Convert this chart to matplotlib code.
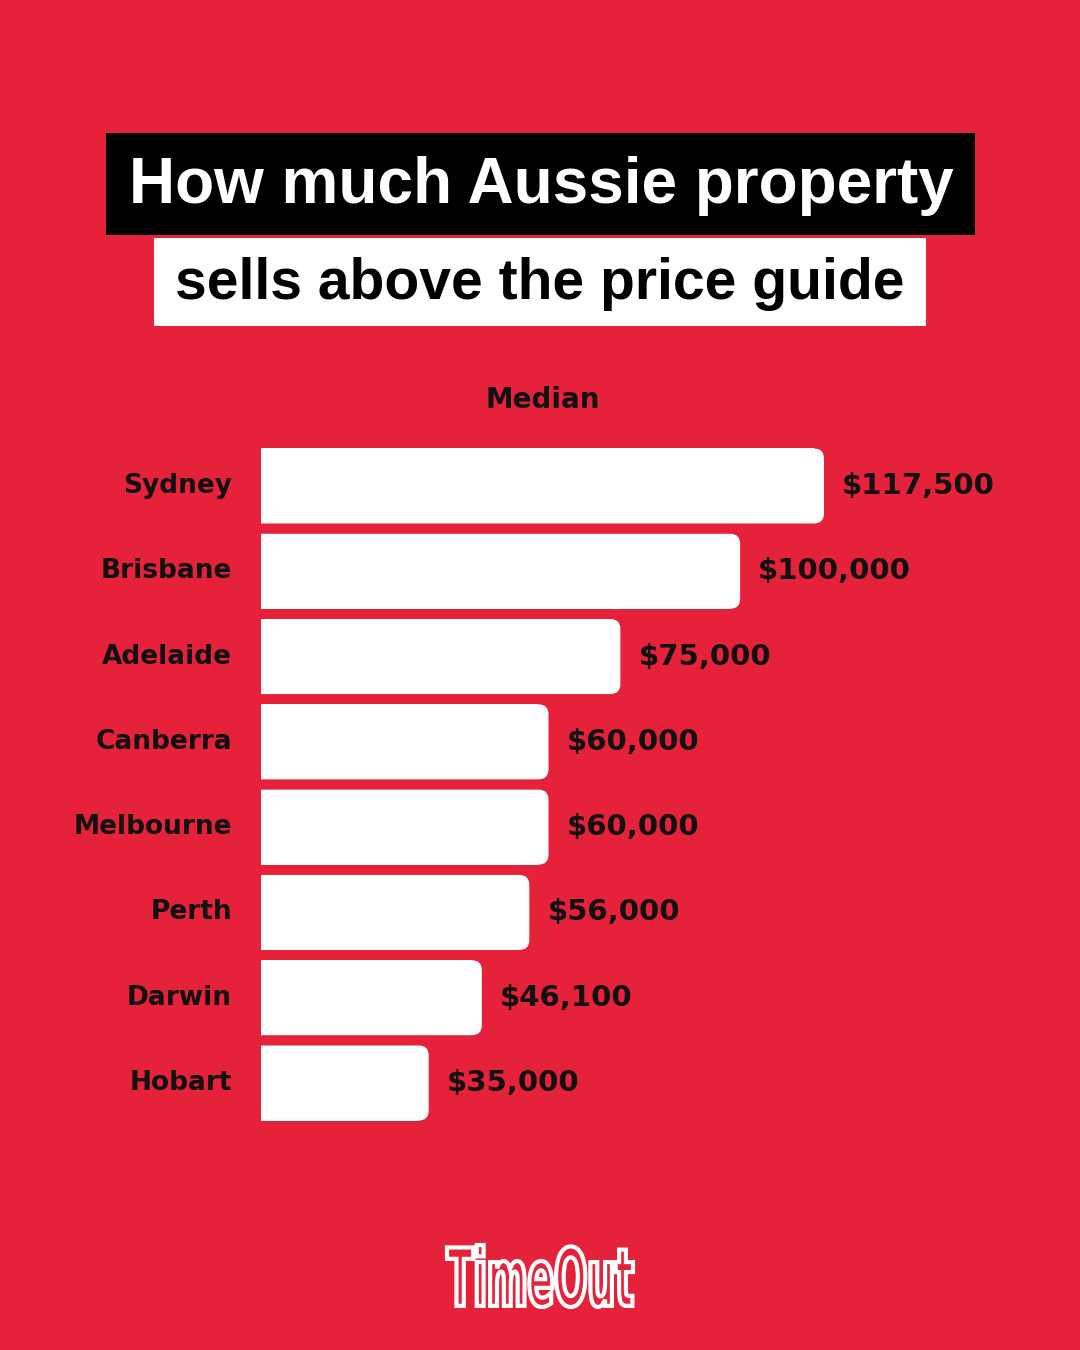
import numpy as np
import matplotlib
matplotlib.use("Agg")
import matplotlib.pyplot as plt
from matplotlib.patches import FancyBboxPatch, Rectangle, PathPatch
from matplotlib.textpath import TextPath
from matplotlib.font_manager import FontProperties
from matplotlib.transforms import Affine2D

# ── Data ──────────────────────────────────────────────────────────────────────
cities = ["Sydney", "Brisbane", "Adelaide", "Canberra",
          "Melbourne", "Perth", "Darwin", "Hobart"]
median_above = [117500, 100000, 75000, 60000, 60000, 56000, 46100, 35000]
value_labels = ["$117,500", "$100,000", "$75,000", "$60,000",
                "$60,000", "$56,000", "$46,100", "$35,000"]

# ── Style ─────────────────────────────────────────────────────────────────────
RED    = "#E6223A"
TITLE  = ["Liberation Sans", "DejaVu Sans"]
LABEL  = ["DejaVu Sans"]
W, H   = 1080, 1350

fig = plt.figure(figsize=(W / 100, H / 100), dpi=100)
fig.patch.set_facecolor(RED)

# overlay axes in pixel coords (y down)
bg = fig.add_axes([0, 0, 1, 1])
bg.set_xlim(0, W)
bg.set_ylim(H, 0)
bg.axis("off")

# title boxes
bg.add_patch(Rectangle((106, 133), 869, 102, facecolor="black", edgecolor="none"))
bg.text(541, 186, "How much Aussie property", color="white", fontsize=46,
        fontweight="bold", family=TITLE, ha="center", va="center")
bg.add_patch(Rectangle((154, 238), 772, 88, facecolor="white", edgecolor="none"))
bg.text(540, 284, "sells above the price guide", color="black", fontsize=41,
        fontweight="bold", family=TITLE, ha="center", va="center")

bg.text(543, 400, "Median", color="#111", fontsize=20, fontweight="bold",
        family=LABEL, ha="center", va="center")

# logo: outlined, stretched tall
tp = TextPath((0, 0), "TimeOut", size=1,
              prop=FontProperties(family="DejaVu Sans", weight="bold"))
ext = tp.get_extents()
lw, lh = 186, 62
tr = (Affine2D().translate(-ext.x0, -ext.y0)
      .scale(lw / ext.width, -lh / ext.height)
      .translate(447, 1307))
bg.add_patch(PathPatch(tr.transform_path(tp), facecolor=RED,
                       edgecolor="white", linewidth=3))

# ── Bars ──────────────────────────────────────────────────────────────────────
x0_px, px_per_dollar = 261, 563 / 117500
ax_right_px = 1040
row_px = 85.3
top_px = 486 - row_px / 2
bot_px = 1083 + row_px / 2
ax = fig.add_axes([x0_px / W, 1 - bot_px / H,
                   (ax_right_px - x0_px) / W, (bot_px - top_px) / H])
ax.set_facecolor("none")
ax.set_xlim(0, (ax_right_px - x0_px) / px_per_dollar)
ax.set_ylim(len(cities) - 0.5, -0.5)
ax.axis("off")

y = np.arange(len(cities))
bar_h = 75 / row_px
r_x = 10 / px_per_dollar
aspect = px_per_dollar / row_px

vals = np.array(median_above, dtype=float)
ax.barh(y, vals - r_x, height=bar_h, color="white", edgecolor="none")
for yi, v in zip(y, vals):
    # start left of the axis so the clip gives square left corners
    ax.add_patch(FancyBboxPatch((-3 * r_x, yi - bar_h / 2), v + 3 * r_x, bar_h,
                                boxstyle=f"round,pad=0,rounding_size={r_x}",
                                mutation_aspect=aspect,
                                facecolor="white", edgecolor="none"))

for yi, v, lab, city in zip(y, vals, value_labels, cities):
    ax.text(v + 18 / px_per_dollar, yi, lab, color="#111", fontsize=21,
            fontweight="bold", family=LABEL, ha="left", va="center")
    ax.text(-29 / px_per_dollar, yi, city, color="#111", fontsize=19,
            fontweight="bold", family=LABEL, ha="right", va="center",
            clip_on=False)

fig.savefig("out.png", dpi=100, facecolor=RED)
